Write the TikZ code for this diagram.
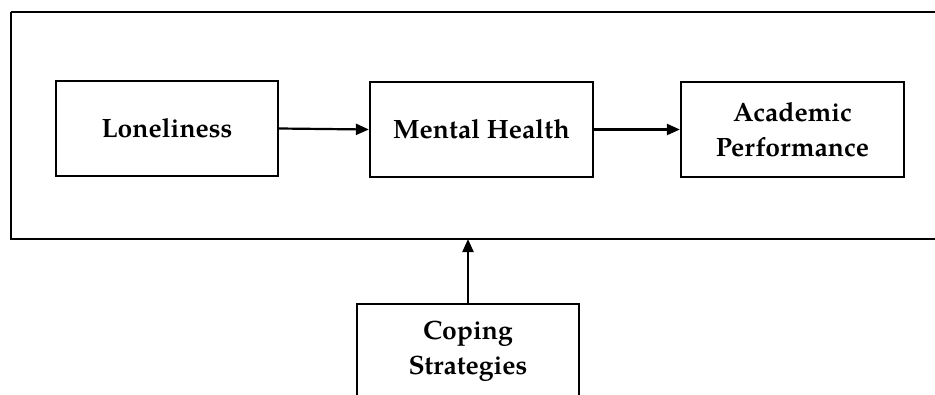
\documentclass[tikz,border=0pt]{standalone}
\usepackage{fontspec}
\setmainfont{texgyrepagella}[Extension=.otf,UprightFont=*-regular,BoldFont=*-bold]
\usetikzlibrary{arrows.meta}
\tikzset{
  box/.style={draw=black, line width=2.2pt, fill=white, align=center, inner sep=0pt, font=\fontsize{26.5}{35}\selectfont\bfseries},
  conn/.style={line width=2.2pt, -{Triangle[length=13pt,width=11pt]}}
}
\begin{document}
\begin{tikzpicture}[x=1pt,y=-1pt]
\useasboundingbox (0,0) rectangle (935,394);
\clip (0,0) rectangle (935,394);
\fill[white] (0,0) rectangle (935,394);
\draw[line width=2.2pt] (11,12) -- (950,12) (11,12) -- (11,239) -- (950,239);
\coordinate (outerbottom) at (468,239);
\node[box, minimum width=222pt, minimum height=95pt] (lone) at (167,128.5) {Loneliness};
\node[box, minimum width=223pt, minimum height=95pt] (mh) at (481.5,129.5) {Mental Health};
\node[box, minimum width=223pt, minimum height=95pt] (ap) at (792.5,129.5) {Academic\\Performance};
\node[box, minimum width=222pt, minimum height=95pt, anchor=north] (cs) at (468,303) {Coping\\Strategies};
\draw[conn] (lone.east) -- (mh.west);
\draw[conn] (mh.east) -- (ap.west);
\draw[conn] (cs.north) -- (outerbottom);
\end{tikzpicture}
\end{document}
